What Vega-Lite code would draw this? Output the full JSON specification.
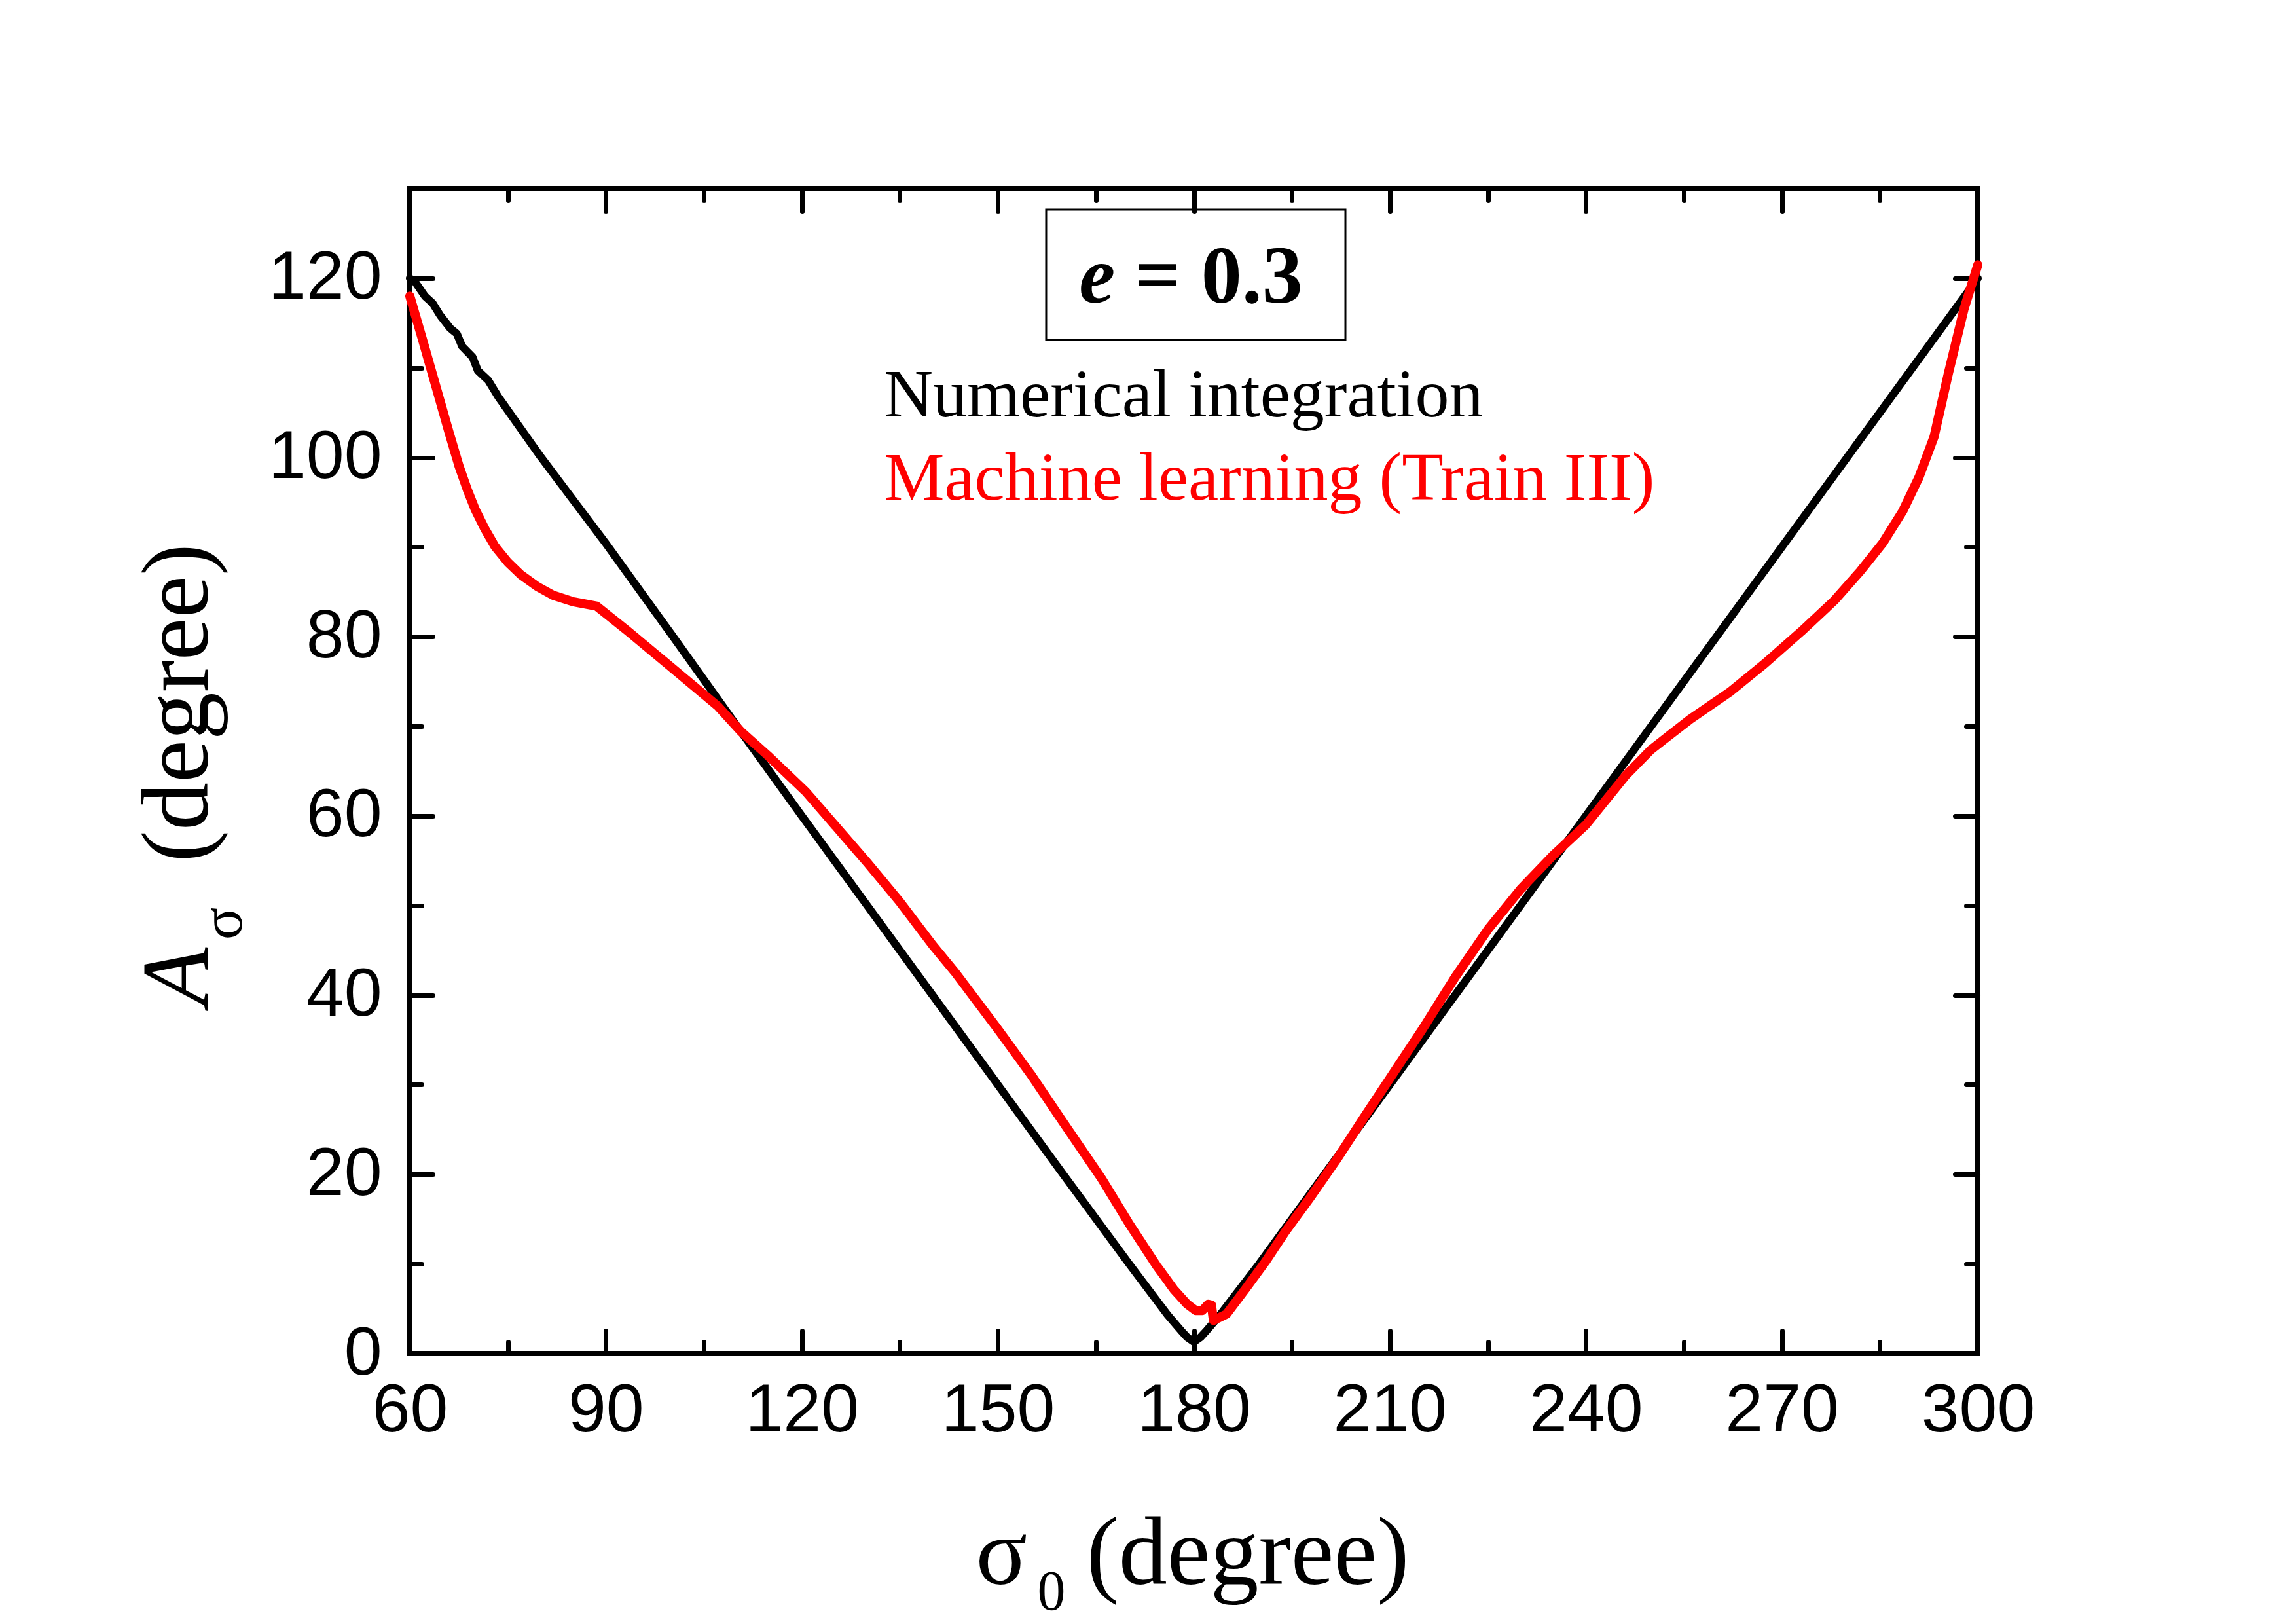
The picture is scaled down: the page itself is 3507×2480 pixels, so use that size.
{
  "$schema": "https://vega.github.io/schema/vega-lite/v6.json",
  "width": 2395,
  "height": 1779,
  "autosize": "none",
  "padding": {"left": 626, "top": 288, "right": 486, "bottom": 413},
  "background": "white",
  "config": {
    "view": {"stroke": "black", "strokeWidth": 8},
    "axis": {
      "grid": false,
      "domain": false,
      "labelFont": "Liberation Sans",
      "labelFontSize": 104,
      "labelColor": "black",
      "labelFlush": false,
      "labelOverlap": false,
      "tickColor": "black",
      "tickWidth": 7,
      "tickCap": "round",
      "titleFont": "Liberation Serif",
      "titleFontWeight": "normal",
      "titleColor": "black"
    }
  },
  "datasets": {
    "numerical": [
      {"sigma0": 60, "A": 120.0}, {"sigma0": 60.8, "A": 119.6}, {"sigma0": 62.3, "A": 118.0},
      {"sigma0": 63.5, "A": 117.2}, {"sigma0": 64.6, "A": 115.9}, {"sigma0": 66.2, "A": 114.4},
      {"sigma0": 67.2, "A": 113.8}, {"sigma0": 68.0, "A": 112.4}, {"sigma0": 69.6, "A": 111.2},
      {"sigma0": 70.4, "A": 109.7}, {"sigma0": 72.0, "A": 108.6}, {"sigma0": 73.5, "A": 106.8},
      {"sigma0": 80, "A": 100.1}, {"sigma0": 90, "A": 90.4}, {"sigma0": 100, "A": 80.3},
      {"sigma0": 110, "A": 70.1}, {"sigma0": 120, "A": 60.0}, {"sigma0": 130, "A": 50.0},
      {"sigma0": 140, "A": 40.0}, {"sigma0": 150, "A": 30.0}, {"sigma0": 160, "A": 20.0},
      {"sigma0": 170, "A": 10.1}, {"sigma0": 176, "A": 4.3}, {"sigma0": 178, "A": 2.6},
      {"sigma0": 179, "A": 1.8}, {"sigma0": 180, "A": 1.3}, {"sigma0": 181, "A": 1.8},
      {"sigma0": 182, "A": 2.6}, {"sigma0": 184, "A": 4.3}, {"sigma0": 190, "A": 10.0},
      {"sigma0": 200, "A": 20.0}, {"sigma0": 210, "A": 30.0}, {"sigma0": 220, "A": 40.0},
      {"sigma0": 230, "A": 50.0}, {"sigma0": 240, "A": 60.0}, {"sigma0": 250, "A": 70.0},
      {"sigma0": 260, "A": 80.0}, {"sigma0": 270, "A": 90.0}, {"sigma0": 280, "A": 100.0},
      {"sigma0": 290, "A": 110.0}, {"sigma0": 300, "A": 120.0}
    ],
    "ml": [
      {"sigma0": 60, "A": 118.0}, {"sigma0": 62, "A": 113.0}, {"sigma0": 64, "A": 107.9},
      {"sigma0": 66, "A": 102.8}, {"sigma0": 67.5, "A": 99.1}, {"sigma0": 68.8, "A": 96.4},
      {"sigma0": 70, "A": 94.2}, {"sigma0": 71.5, "A": 92.0}, {"sigma0": 73, "A": 90.1},
      {"sigma0": 75, "A": 88.3}, {"sigma0": 77, "A": 86.9}, {"sigma0": 79.5, "A": 85.6},
      {"sigma0": 82, "A": 84.6}, {"sigma0": 85, "A": 83.9}, {"sigma0": 88.6, "A": 83.4},
      {"sigma0": 93.4, "A": 80.6}, {"sigma0": 99.5, "A": 76.9}, {"sigma0": 107.2, "A": 72.2},
      {"sigma0": 110.7, "A": 69.4}, {"sigma0": 114.7, "A": 66.8}, {"sigma0": 120.6, "A": 62.7},
      {"sigma0": 126.2, "A": 58.0}, {"sigma0": 130, "A": 54.8}, {"sigma0": 134.9, "A": 50.5},
      {"sigma0": 140, "A": 45.6}, {"sigma0": 143.5, "A": 42.5}, {"sigma0": 150, "A": 36.2},
      {"sigma0": 155.0, "A": 31.2}, {"sigma0": 160, "A": 25.8}, {"sigma0": 165.9, "A": 19.5},
      {"sigma0": 170, "A": 14.6}, {"sigma0": 174.3, "A": 9.8}, {"sigma0": 177, "A": 7.1},
      {"sigma0": 179, "A": 5.5}, {"sigma0": 180.3, "A": 4.8}, {"sigma0": 181.3, "A": 4.8},
      {"sigma0": 182.2, "A": 5.5}, {"sigma0": 182.7, "A": 5.4}, {"sigma0": 183.0, "A": 3.7},
      {"sigma0": 185.0, "A": 4.4}, {"sigma0": 188, "A": 7.3}, {"sigma0": 191.0, "A": 10.3},
      {"sigma0": 194, "A": 13.6}, {"sigma0": 197.7, "A": 17.3}, {"sigma0": 202, "A": 21.8},
      {"sigma0": 206.0, "A": 26.3}, {"sigma0": 210, "A": 30.7}, {"sigma0": 215, "A": 36.2},
      {"sigma0": 220, "A": 42.0}, {"sigma0": 225, "A": 47.3}, {"sigma0": 230, "A": 51.8},
      {"sigma0": 235, "A": 55.6}, {"sigma0": 240, "A": 59.0}, {"sigma0": 246.1, "A": 64.5},
      {"sigma0": 250, "A": 67.4}, {"sigma0": 256, "A": 70.8}, {"sigma0": 262, "A": 73.8},
      {"sigma0": 267.4, "A": 77.0}, {"sigma0": 273, "A": 80.6}, {"sigma0": 278, "A": 84.0},
      {"sigma0": 282, "A": 87.3}, {"sigma0": 285.5, "A": 90.5}, {"sigma0": 288.5, "A": 94.0},
      {"sigma0": 291, "A": 97.8}, {"sigma0": 293.3, "A": 102.3}, {"sigma0": 295.5, "A": 109.4},
      {"sigma0": 297.9, "A": 116.6}, {"sigma0": 300, "A": 121.5}
    ]
  },
  "resolve": {
    "scale": {"x": "shared", "y": "shared"},
    "axis": {"x": "independent", "y": "independent"}
  },
  "layer": [
    {
      "data": {"name": "numerical"},
      "mark": {"type": "line", "color": "black", "strokeWidth": 12, "strokeCap": "round", "strokeJoin": "round"},
      "encoding": {
        "x": {
          "field": "sigma0", "type": "quantitative",
          "scale": {"domain": [60, 300], "nice": false, "zero": false},
          "axis": {
            "orient": "bottom", "values": [60, 90, 120, 150, 180, 210, 240, 270, 300],
            "ticks": false, "labelPadding": 36,
            "title": "(degree)", "titleFontSize": 148, "titleAngle": 0,
            "titleX": 1033, "titleY": 351, "titleAlign": "left", "titleBaseline": "alphabetic"
          }
        },
        "y": {
          "field": "A", "type": "quantitative",
          "scale": {"domain": [0, 130], "nice": false, "zero": false},
          "axis": {
            "orient": "left", "values": [0, 20, 40, 60, 80, 100, 120],
            "ticks": false, "labelPadding": 43,
            "title": "(degree)", "titleFontSize": 146, "titleAngle": 270,
            "titleX": -310, "titleY": 785, "titleAlign": "center", "titleBaseline": "alphabetic"
          }
        }
      }
    },
    {
      "data": {"name": "ml"},
      "mark": {"type": "line", "color": "#ff0000", "strokeWidth": 14, "strokeCap": "round", "strokeJoin": "round"},
      "encoding": {
        "x": {
          "field": "sigma0", "type": "quantitative",
          "axis": {
            "orient": "bottom", "values": [60, 90, 120, 150, 180, 210, 240, 270, 300],
            "labels": false, "tickSize": -35,
            "title": "σ", "titleFontSize": 146, "titleAngle": 0,
            "titleX": 864, "titleY": 351, "titleAlign": "left", "titleBaseline": "alphabetic"
          }
        },
        "y": {
          "field": "A", "type": "quantitative",
          "axis": {
            "orient": "left", "values": [0, 20, 40, 60, 80, 100, 120],
            "labels": false, "tickSize": -35,
            "title": "A", "titleFontSize": 146, "titleFontStyle": "italic", "titleAngle": 270,
            "titleX": -310, "titleY": 1203, "titleAlign": "center", "titleBaseline": "alphabetic"
          }
        }
      }
    },
    {
      "data": {"values": [{}]},
      "mark": {"type": "rect", "filled": false, "color": "black", "strokeWidth": 3},
      "encoding": {
        "x": {
          "datum": 157.4, "type": "quantitative",
          "axis": {
            "orient": "bottom", "values": [75, 105, 135, 165, 195, 225, 255, 285],
            "labels": false, "tickSize": -18,
            "title": "0", "titleFontSize": 86, "titleAngle": 0,
            "titleX": 958, "titleY": 390, "titleAlign": "left", "titleBaseline": "alphabetic"
          }
        },
        "x2": {"datum": 203.2},
        "y": {
          "datum": 127.66, "type": "quantitative",
          "axis": {
            "orient": "left", "values": [10, 30, 50, 70, 90, 110],
            "labels": false, "tickSize": -18,
            "title": "σ", "titleFontSize": 92, "titleAngle": 270,
            "titleX": -258, "titleY": 1122, "titleAlign": "center", "titleBaseline": "alphabetic"
          }
        },
        "y2": {"datum": 113.12}
      }
    },
    {
      "data": {"values": [{"label": "Numerical integration"}]},
      "mark": {"type": "text", "font": "Liberation Serif", "fontSize": 104, "color": "black", "align": "left", "baseline": "alphabetic"},
      "encoding": {
        "x": {
          "datum": 132.55, "type": "quantitative",
          "axis": {
            "orient": "top", "values": [60, 90, 120, 150, 180, 210, 240, 270, 300],
            "labels": false, "tickSize": -35, "title": null
          }
        },
        "y": {
          "datum": 104.57, "type": "quantitative",
          "axis": {
            "orient": "right", "values": [0, 20, 40, 60, 80, 100, 120],
            "labels": false, "tickSize": -35, "title": null
          }
        },
        "text": {"field": "label"}
      }
    },
    {
      "data": {"values": [{"label": "Machine learning (Train III)"}]},
      "mark": {"type": "text", "font": "Liberation Serif", "fontSize": 104, "color": "#ff0000", "align": "left", "baseline": "alphabetic"},
      "encoding": {
        "x": {
          "datum": 132.55, "type": "quantitative",
          "axis": {
            "orient": "top", "values": [75, 105, 135, 165, 195, 225, 255, 285],
            "labels": false, "tickSize": -18, "title": null
          }
        },
        "y": {
          "datum": 95.29, "type": "quantitative",
          "axis": {
            "orient": "right", "values": [10, 30, 50, 70, 90, 110],
            "labels": false, "tickSize": -18, "title": null
          }
        },
        "text": {"field": "label"}
      }
    },
    {
      "data": {"values": [{"label": "e"}]},
      "mark": {"type": "text", "font": "Liberation Serif", "fontSize": 124, "fontWeight": "bold", "fontStyle": "italic", "color": "black", "align": "center", "baseline": "alphabetic"},
      "encoding": {
        "x": {"datum": 165.2, "type": "quantitative", "axis": null},
        "y": {"datum": 117.28, "type": "quantitative", "axis": null},
        "text": {"field": "label"}
      }
    },
    {
      "data": {"values": [{"label": "= 0.3"}]},
      "mark": {"type": "text", "font": "Liberation Serif", "fontSize": 124, "fontWeight": "bold", "color": "black", "align": "left", "baseline": "alphabetic"},
      "encoding": {
        "x": {"datum": 170.93, "type": "quantitative", "axis": null},
        "y": {"datum": 117.28, "type": "quantitative", "axis": null},
        "text": {"field": "label"}
      }
    }
  ]
}
